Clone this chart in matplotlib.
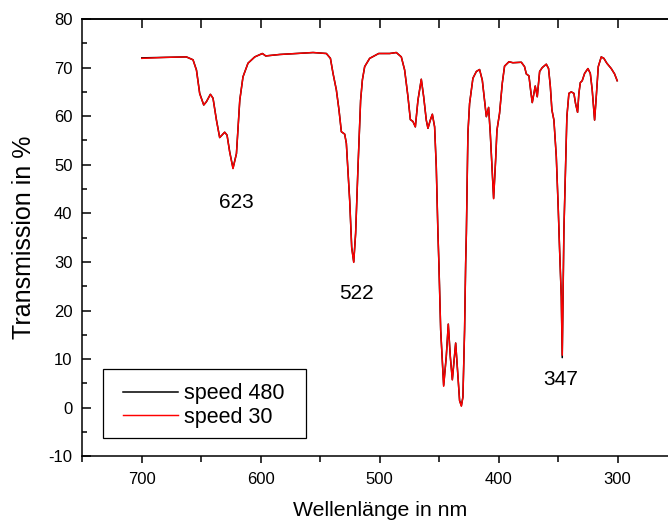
import matplotlib
matplotlib.use("Agg")
import matplotlib.pyplot as plt
from matplotlib.ticker import MultipleLocator
from matplotlib.patches import Rectangle

plt.rcParams['font.family'] = ['Liberation Sans', 'DejaVu Sans']
plt.rcParams['axes.unicode_minus'] = False

# ---- data ----
wavelength = [700, 680, 662.5, 656.9, 654, 651.3, 647.9, 645.6, 642.3, 640.1,
              637.2, 634.5, 630.3, 628.3, 626.1, 623.3, 620.4, 617.6, 614.9, 610.7,
              605, 598.6, 595.8, 584, 570, 556, 544.8, 541.4, 539.2, 536.4,
              534.2, 532.2, 529.4, 528, 525.2, 523.5, 521.8, 520.2, 518.2, 516.0,
              514.5, 512.6, 508.4, 500.8, 491.6, 486, 481.8, 479, 476.2, 474.2,
              472, 470, 467.8, 465, 463, 460.8, 459.4, 457.4, 455.7, 453.8,
              452.4, 451, 450.2, 448.7, 446.2, 444, 442.3, 440.6, 438.9, 436.1,
              434.5, 432.8, 431.3, 430, 428.6, 427.7, 427.1, 425.8, 424.4, 421.6,
              418.7, 416, 413.7, 411.8, 410.3, 408.4, 407, 405.6, 404.2, 402.5,
              401.4, 399.2, 396.9, 395, 391.3, 388, 380.9, 378.2, 376.7, 374.5,
              373.1, 371.7, 370.3, 369.2, 367.5, 365.5, 363.3, 359.9, 358, 356.5,
              355.2, 353.5, 351.5, 349.9, 348.7, 347.3, 346.5, 346.0, 345.1, 343.7,
              342.6, 340.9, 338.9, 336.7, 335.3, 333.6, 332.5, 331.3, 329.7, 327.7,
              324.9, 322.9, 321.3, 319.3, 317.9, 316.2, 313.7, 311.5, 309, 305.3,
              302.5, 300.3]

speed_480 = [72.0, 72.1, 72.2, 71.6, 69.5, 64.7, 62.3, 63.0, 64.5, 63.7,
             59.2, 55.6, 56.7, 56.1, 52.7, 49.3, 52.3, 63.3, 68.1, 70.9,
             72.2, 72.9, 72.4, 72.7, 72.9, 73.1, 72.9, 71.9, 68.8, 65.4,
             61.3, 56.8, 56.3, 54.4, 42.7, 33.0, 30.0, 35.9, 49.6, 63.3,
             67.5, 70.2, 71.9, 72.9, 72.9, 73.1, 72.2, 69.5, 64.0, 59.3,
             58.9, 57.8, 63.3, 67.6, 64.0, 59.2, 57.5, 59.2, 60.4, 57.8,
             49.6, 35.9, 29.7, 16.0, 4.6, 10.5, 17.2, 10.5, 5.8, 13.3,
             7.7, 1.5, 0.4, 2.2, 16.0, 29.7, 35.9, 56.5, 62.6, 67.8,
             69.2, 69.6, 67.4, 63.3, 59.9, 61.8, 56.5, 49.6, 43.1, 51.0,
             57.1, 60.6, 66.8, 70.3, 71.2, 71.0, 71.1, 70.2, 68.7, 68.3,
             65.4, 62.8, 64.7, 66.2, 64.0, 69.2, 70.0, 70.7, 69.8, 66.1,
             61.3, 59.2, 51.7, 41.3, 32.4, 22.8, 10.3, 20.0, 36.5, 49.6,
             59.9, 64.7, 65.0, 64.7, 62.6, 60.8, 64.7, 66.9, 67.3, 68.8,
             69.8, 68.8, 65.4, 59.2, 64.0, 70.2, 72.2, 71.9, 70.9, 69.8,
             68.7, 67.3]

speed_30 = [71.9, 72.1, 72.2, 71.6, 69.4, 64.6, 62.3, 63.0, 64.5, 63.7,
            59.1, 55.6, 56.7, 56.1, 52.6, 49.2, 52.3, 63.3, 68.1, 70.9,
            72.2, 72.9, 72.4, 72.7, 72.9, 73.1, 72.9, 71.9, 68.8, 65.4,
            61.3, 56.8, 56.3, 54.4, 42.6, 32.9, 29.9, 35.9, 49.6, 63.3,
            67.5, 70.2, 71.9, 72.9, 72.9, 73.1, 72.2, 69.5, 64.0, 59.3,
            58.9, 57.8, 63.3, 67.6, 64.0, 59.2, 57.5, 59.2, 60.4, 57.8,
            49.6, 35.9, 29.7, 16.0, 4.4, 10.5, 17.2, 10.5, 5.7, 13.3,
            7.7, 1.4, 0.3, 2.2, 16.0, 29.7, 35.9, 56.5, 62.6, 67.8,
            69.2, 69.6, 67.4, 63.3, 59.9, 61.8, 56.5, 49.6, 43.0, 51.0,
            57.1, 60.6, 66.8, 70.3, 71.2, 71.0, 71.1, 70.2, 68.7, 68.3,
            65.4, 62.8, 64.7, 66.2, 64.0, 69.2, 70.0, 70.7, 69.8, 66.1,
            61.3, 59.2, 51.7, 41.3, 32.4, 22.8, 10.8, 20.0, 36.5, 49.6,
            59.9, 64.7, 65.0, 64.7, 62.6, 60.8, 64.7, 66.9, 67.3, 68.8,
            69.8, 68.8, 65.4, 59.2, 64.0, 70.2, 72.2, 71.9, 70.9, 69.8,
            68.7, 67.3]

peak_labels = ["623", "522", "347"]
peak_x = [620.6, 519.3, 347.5]
peak_y = [42.3, 23.6, 5.7]

x_ticks = [700, 600, 500, 400, 300]
y_ticks = [-10, 0, 10, 20, 30, 40, 50, 60, 70, 80]

# ---- figure ----
fig = plt.figure(figsize=(6.68, 5.25), dpi=100)
ax = fig.add_axes([0.1232, 0.1309, 0.8903, 0.8329])

ax.plot(wavelength, speed_480, color='black', lw=1.1, label='speed 480')
ax.plot(wavelength, speed_30, color='#ff0000', lw=1.05, label='speed 30')

ax.set_xlim(750, 250)
ax.set_ylim(-10, 80)
ax.set_xticks(x_ticks)
ax.set_yticks(y_ticks)
ax.xaxis.set_minor_locator(MultipleLocator(50))
ax.yaxis.set_minor_locator(MultipleLocator(5))

for s in ax.spines.values():
    s.set_linewidth(1.1)

ax.tick_params(axis='x', which='major', direction='out', length=5, width=1.1,
               labelsize=12, pad=6.5, top=False)
ax.tick_params(axis='x', which='minor', direction='out', length=4.5, width=1.1,
               top=False)
ax.tick_params(axis='y', which='major', direction='in', length=6.5, width=1.1,
               labelsize=12, pad=7, right=True)
ax.tick_params(axis='y', which='minor', direction='in', length=3.6, width=1.1,
               right=True)

# top inward ticks at every 50 nm
sec = ax.secondary_xaxis('top')
sec.set_xticks([700, 650, 600, 550, 500, 450, 400, 350, 300])
sec.tick_params(direction='in', length=6.5, width=1.1, labeltop=False)
sec.spines['top'].set_linewidth(1.1)

ax.set_xlabel('Wellenlänge in nm', fontsize=15.3)
ax.xaxis.set_label_coords(0.5, -0.102)
ax.set_ylabel('Transmission in %', fontsize=18)
ax.yaxis.set_label_coords(-0.078, 0.5)

for t, xv, yv in zip(peak_labels, peak_x, peak_y):
    ax.text(xv, yv, t, fontsize=15, ha='center', va='center')

# legend: frame drawn separately to get Origin-like padding
frame = Rectangle((0.0343, 0.0425), 0.3419, 0.1571, transform=ax.transAxes,
                  facecolor='white', edgecolor='black', lw=0.9, zorder=4)
ax.add_patch(frame)
leg = ax.legend(loc='upper left', bbox_to_anchor=(0.0685, 0.167),
                borderaxespad=0, borderpad=0, fontsize=15.5, handlelength=2.55,
                handletextpad=0.3, labelspacing=0.12, frameon=False)
leg.set_zorder(5)

fig.savefig('out.png', dpi=100)
